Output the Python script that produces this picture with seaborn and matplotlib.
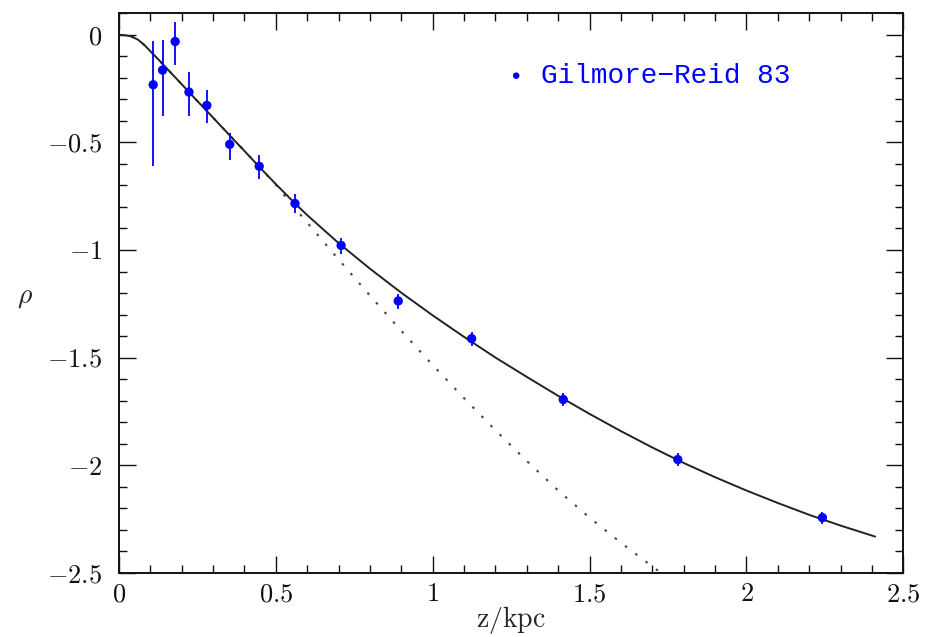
import matplotlib
matplotlib.use('Agg')
import matplotlib.pyplot as plt
import seaborn as sns
from matplotlib.ticker import MultipleLocator, FuncFormatter

# Gilmore-Reid 83 points (z in kpc, log density) with asymmetric errors
z_obs = [0.109, 0.139, 0.179, 0.223, 0.280, 0.353, 0.447, 0.561, 0.708, 0.890, 1.124, 1.416, 1.781, 2.242]
rho_obs = [-0.232, -0.164, -0.031, -0.266, -0.328, -0.509, -0.611, -0.784, -0.979, -1.237, -1.412, -1.695, -1.974, -2.244]
err_lo = [0.379, 0.212, 0.110, 0.110, 0.080, 0.071, 0.057, 0.045, 0.038, 0.036, 0.036, 0.032, 0.031, 0.029]
err_hi = [0.201, 0.141, 0.091, 0.091, 0.071, 0.054, 0.054, 0.042, 0.036, 0.034, 0.033, 0.030, 0.031, 0.028]

# full model (solid)
z_fit = [0.0, 0.02, 0.04, 0.06, 0.08, 0.10, 0.12, 0.16, 0.20, 0.25, 0.30, 0.35, 0.40, 0.45, 0.50,
         0.56, 0.60, 0.70, 0.80, 0.90, 1.00, 1.10, 1.20, 1.30, 1.40, 1.50, 1.60, 1.70, 1.80,
         1.90, 2.00, 2.10, 2.20, 2.30, 2.41]
rho_fit = [0.0, -0.002, -0.008, -0.022, -0.046, -0.076, -0.106, -0.168, -0.230, -0.308, -0.385,
           -0.463, -0.540, -0.618, -0.694, -0.782, -0.838, -0.968, -1.087, -1.199, -1.304, -1.404,
           -1.500, -1.590, -1.678, -1.762, -1.842, -1.918, -1.990, -2.056, -2.118, -2.176, -2.231,
           -2.281, -2.332]

# disk-only model (dotted)
z_disk = [0.0, 0.02, 0.04, 0.06, 0.08, 0.10, 0.12, 0.16, 0.20, 0.25, 0.30, 0.35, 0.40, 0.45, 0.50,
          0.54, 0.60, 0.70, 0.80, 0.90, 1.00, 1.10, 1.20, 1.30, 1.40, 1.50, 1.60, 1.70, 1.80]
rho_disk = [0.0, -0.002, -0.008, -0.022, -0.046, -0.076, -0.106, -0.168, -0.230, -0.308, -0.385,
            -0.463, -0.540, -0.618, -0.697, -0.770, -0.873, -1.044, -1.212, -1.376, -1.535, -1.689,
            -1.838, -1.981, -2.118, -2.244, -2.361, -2.471, -2.580]

x_ticks = [0, 0.5, 1, 1.5, 2, 2.5]
y_ticks = [0, -0.5, -1, -1.5, -2, -2.5]

sns.set_theme(style='ticks')
plt.rcParams.update({
    'font.family': ['cmr10', 'DejaVu Serif'],
    'mathtext.fontset': 'cm',
    'axes.formatter.use_mathtext': True,
    'axes.unicode_minus': True,
})

fig = plt.figure(figsize=(9.31, 6.37), dpi=100)
ax = fig.add_axes([0.1278, 0.1009, 0.8425, 0.8782])

sns.lineplot(x=z_disk, y=rho_disk, ax=ax, color='#444444', lw=1.5, linestyle=(0, (1.2, 5)), sort=False)
sns.lineplot(x=z_fit, y=rho_fit, ax=ax, color='#222222', lw=1.4, sort=False)
ax.errorbar(z_obs, rho_obs, yerr=[err_lo, err_hi], fmt='none', ecolor='blue', elinewidth=1.3, capsize=0, zorder=4)
sns.scatterplot(x=z_obs, y=rho_obs, ax=ax, color='blue', s=45, edgecolor='none', zorder=5,
                label='Gilmore\u2212Reid 83')

ax.set_xlim(0, 2.5)
ax.set_ylim(-2.5, 0.1)
ax.set_xticks(x_ticks)
ax.set_yticks(y_ticks)
ax.xaxis.set_minor_locator(MultipleLocator(0.1))
ax.yaxis.set_minor_locator(MultipleLocator(0.1))
fmt = FuncFormatter(lambda v, pos: f'${v:g}$')
ax.xaxis.set_major_formatter(fmt)
ax.yaxis.set_major_formatter(fmt)

ax.tick_params(which='both', direction='in', top=True, right=True, width=1.0, colors='#111111')
ax.tick_params(which='major', length=12, labelsize=19)
ax.tick_params(which='minor', length=6)
ax.tick_params(axis='x', which='major', pad=7)
ax.tick_params(axis='y', which='major', pad=12)
for sp in ax.spines.values():
    sp.set_linewidth(1.4)
    sp.set_color('#111111')

ax.set_xlabel(r'$\mathrm{z/kpc}$', fontsize=20, va='center')
ax.xaxis.set_label_coords(0.5, -0.085)
ax.set_ylabel(r'$\rho$', fontsize=20, rotation=0, va='center', ha='center')
ax.yaxis.set_label_coords(-0.12, 0.493)

ax.legend(loc='center left', bbox_to_anchor=(0.471, 0.888), frameon=False, handlelength=1.0,
          handletextpad=0.4, borderpad=0, markerscale=0.7, labelcolor='blue',
          prop={'family': 'Liberation Mono', 'size': 20})

fig.savefig('out.png', dpi=100)
